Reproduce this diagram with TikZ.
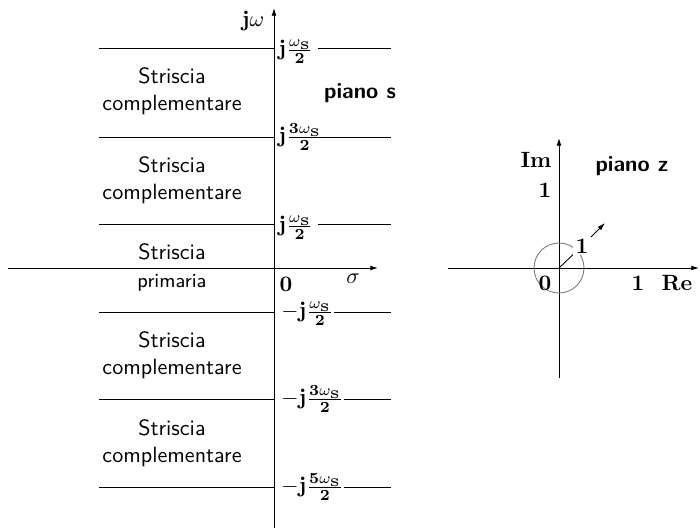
\documentclass[tikz,border=0pt]{standalone}
\usepackage{amsmath,amssymb}
\usetikzlibrary{arrows.meta,positioning}
\definecolor{CircGray}{HTML}{7A7A7A}

\begin{document}
\begin{tikzpicture}[x=0.0159cm,y=-0.0159cm,>={Latex[length=3.5pt,width=2.2pt]},
  every node/.style={font=\sffamily,align=center},
  stripe/.style={font=\sffamily,align=center,inner sep=0pt},
  freq/.style={anchor=base west,inner sep=0pt}]
  \useasboundingbox (0,0) rectangle (700,529);
  % piano s
  \coordinate (sW) at (8,268);
  \coordinate (sE) at (378,268);
  \coordinate (sS) at (274,528);
  \coordinate (sN) at (274,8);
  \draw[->] (sW) -- (sE);
  \draw[->] (sS) -- (sN);
  \node[anchor=east] (jw) at (272,21) {$\mathbf{j}\omega$};
  \node (sigma) at (353,279) {$\sigma$};
  \node (orig) at (286,284) {$\mathbf{0}$};
  \node[font=\sffamily\bfseries] (pianos) at (360,93) {piano s};
  \foreach \i/\y/\d/\lab in {1/48/8/{\mathbf{j}\frac{\omega_{\mathbf{S}}}{\mathbf{2}}},
      2/137/6/{\mathbf{j}\frac{\mathbf{3}\omega_{\mathbf{S}}}{\mathbf{2}}},
      3/224/8/{\mathbf{j}\frac{\omega_{\mathbf{S}}}{\mathbf{2}}}}{
    \coordinate (l\i) at (99,\y);
    \coordinate (a\i) at (274,\y);
    \coordinate (b\i) at (318,\y);
    \coordinate (r\i) at (391,\y);
    \node[freq] (f\i) at (278,\y+\d) {$\lab$};
    \draw (l\i) -- (a\i);
    \draw (b\i) -- (r\i);
  }
  \foreach \i/\y/\lab in {4/312/{-\mathbf{j}\frac{\omega_{\mathbf{S}}}{\mathbf{2}}},
      5/399/{-\mathbf{j}\frac{\mathbf{3}\omega_{\mathbf{S}}}{\mathbf{2}}},
      6/487/{-\mathbf{j}\frac{\mathbf{5}\omega_{\mathbf{S}}}{\mathbf{2}}}}{
    \coordinate (l\i) at (99,\y);
    \coordinate (a\i) at (274,\y);
    \coordinate (r\i) at (391,\y);
    \node[freq] (f\i) at (281,\y+6) {$\lab$};
    \draw (l\i) -- (a\i);
    \draw (f\i.east |- r\i) -- (r\i);
  }
  \foreach \i/\y in {1/91,2/180,3/355,4/443}{
    \node[stripe] (strip\i) at (172,\y) {Striscia\\complementare};
  }
  \node[stripe] (prim1) at (172,252) {Striscia};
  \node[stripe,font=\sffamily\small] (prim2) at (172,283) {primaria};
  % piano z
  \coordinate (zW) at (448,268);
  \coordinate (zE) at (699,268);
  \coordinate (zS) at (559,378);
  \coordinate (zN) at (559,138);
  \coordinate (zO) at (559,268);
  \coordinate (zR) at (605,223);
  \draw[->] (zW) -- (zE);
  \draw[->] (zS) -- (zN);
  \draw[CircGray] (zO) circle (25);
  \node (im) at (536,160) {$\mathbf{Im}$};
  \node (imone) at (545,190) {$\mathbf{1}$};
  \node (zzero) at (545,283) {$\mathbf{0}$};
  \node (reone) at (638,283) {$\mathbf{1}$};
  \node (re) at (677,283) {$\mathbf{Re}$};
  \node[font=\sffamily\bfseries] (pianoz) at (632,166) {piano z};
  \node[fill=white,inner sep=1pt] (rad) at (582,246) {$\mathbf{1}$};
  \draw (zO) -- (rad);
  \draw[->] (rad) -- (zR);
\end{tikzpicture}
\end{document}
